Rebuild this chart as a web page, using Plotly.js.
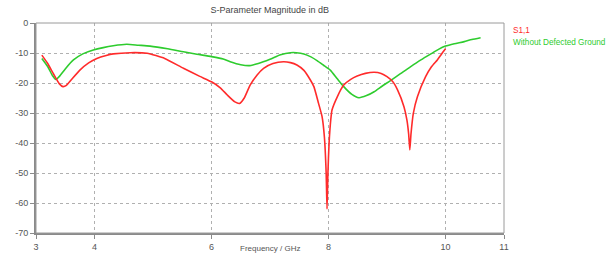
<!DOCTYPE html>
<html>
<head>
<meta charset="utf-8">
<script src="https://cdn.plot.ly/plotly-3.0.1.min.js"></script>
<style>html,body{margin:0;padding:0;background:#fff;}#chart{width:613px;height:255px;}</style>
</head>
<body>
<div id="chart"></div>
<script>
var s11Freq = [3.10,3.20,3.30,3.40,3.46,3.52,3.60,3.75,3.90,4.04,4.20,4.32,4.61,4.90,5.20,5.52,5.80,6.00,6.15,6.27,6.40,6.48,6.56,6.66,6.78,6.89,7.05,7.23,7.35,7.46,7.58,7.69,7.75,7.83,7.89,7.93,7.96,7.975,7.99,8.01,8.04,8.06,8.15,8.26,8.38,8.49,8.63,8.78,8.90,9.00,9.10,9.18,9.29,9.34,9.37,9.39,9.41,9.45,9.52,9.66,9.76,9.86,9.93,10.0];
var s11dB = [-10.7,-13.5,-17.0,-20.3,-21.2,-20.8,-19.0,-15.7,-13.3,-11.8,-10.8,-10.3,-9.9,-10.1,-11.8,-15.1,-17.8,-19.6,-21.6,-24.0,-26.3,-26.8,-25.0,-20.7,-17.3,-15.1,-13.5,-12.9,-13.2,-14.0,-15.8,-19.0,-21.2,-26.8,-31.2,-38.0,-50.0,-62.0,-50.0,-40.0,-32.0,-29.0,-24.6,-20.7,-18.8,-17.7,-16.8,-16.4,-16.8,-17.9,-19.6,-22.3,-27.9,-32.3,-37.0,-42.3,-37.0,-30.1,-24.6,-17.9,-14.6,-12.3,-10.4,-8.6];
var ndgFreq = [3.10,3.20,3.28,3.34,3.40,3.50,3.64,3.80,3.98,4.15,4.32,4.55,4.75,4.95,5.25,5.52,5.75,6.00,6.20,6.32,6.50,6.65,6.80,7.00,7.18,7.35,7.45,7.58,7.70,7.81,7.91,8.03,8.15,8.26,8.40,8.52,8.65,8.78,8.92,9.06,9.23,9.40,9.58,9.75,9.88,10.0,10.15,10.32,10.45,10.60];
var ndgdB = [-11.8,-14.5,-17.5,-18.8,-17.8,-15.3,-12.3,-10.3,-9.0,-8.2,-7.6,-7.1,-7.4,-7.7,-8.6,-9.6,-10.4,-11.2,-12.0,-12.9,-13.9,-14.2,-13.5,-12.1,-10.6,-9.9,-9.9,-10.3,-11.3,-12.6,-14.0,-15.7,-18.6,-21.2,-23.8,-24.9,-24.2,-22.9,-21.0,-19.2,-16.9,-14.6,-12.3,-10.3,-8.8,-7.7,-6.9,-6.2,-5.5,-4.9];
var seriesNames = ["S1,1", "Without Defected Ground"];
var xTicks = [3,4,6,8,10,11];
var yTicks = [0,-10,-20,-30,-40,-50,-60,-70];
var titleText = "S-Parameter Magnitude in dB";
var xTitle = "Frequency / GHz";

var RED = "#ff2b2b", GREEN = "#2ecc2e";
var FONT = "Liberation Sans, Arial, sans-serif";

var traces = [
  {x: ndgFreq, y: ndgdB, mode: "lines", name: seriesNames[1], line: {color: GREEN, width: 1.6, shape: "spline", smoothing: 0.6}},
  {x: s11Freq, y: s11dB, mode: "lines", name: seriesNames[0], line: {color: RED, width: 1.6, shape: "spline", smoothing: 0.5}}
];

var layout = {
  width: 613, height: 255,
  margin: {l: 36, r: 109, t: 23, b: 22},
  paper_bgcolor: "#fff", plot_bgcolor: "#fff",
  showlegend: false,
  font: {family: FONT, size: 9, color: "#555"},
  title: {text: titleText, font: {family: FONT, size: 9, color: "#444"}, x: 0.44, xanchor: "center", y: 0.96, yanchor: "middle"},
  xaxis: {
    range: [3, 11], tickvals: xTicks, ticktext: xTicks.map(String),
    showgrid: true, gridcolor: "#b0b0b0", griddash: "dot", gridwidth: 1,
    zeroline: false, showline: true, linecolor: "#8a8a8a", linewidth: 2,
    ticks: "outside", ticklen: 4, tickcolor: "#8a8a8a", tickwidth: 1,
    tickfont: {family: FONT, size: 9, color: "#555"}
  },
  yaxis: {
    range: [-70, 0], tickvals: yTicks, ticktext: yTicks.map(String),
    showgrid: true, gridcolor: "#b0b0b0", griddash: "dot", gridwidth: 1,
    zeroline: false, showline: true, linecolor: "#8a8a8a", linewidth: 2,
    ticks: "outside", ticklen: 4, tickcolor: "#8a8a8a", tickwidth: 1,
    tickfont: {family: FONT, size: 9, color: "#555"}
  },
  shapes: [
    {type: "rect", xref: "paper", yref: "paper", x0: 0, x1: 1, y0: 0, y1: 1, line: {color: "#9a9a9a", width: 1}, layer: "above"}
  ],
  annotations: [
    {xref: "paper", yref: "paper", x: 1.015, y: 0.964, xanchor: "left", yanchor: "middle", text: seriesNames[0], showarrow: false, font: {family: FONT, size: 8.2, color: RED}},
    {xref: "paper", yref: "paper", x: 1.015, y: 0.907, xanchor: "left", yanchor: "middle", text: seriesNames[1], showarrow: false, font: {family: FONT, size: 8.2, color: GREEN}},
    {xref: "paper", yref: "paper", x: 0.5, y: -0.098, xanchor: "center", yanchor: "bottom", text: xTitle, showarrow: false, borderpad: 0, font: {family: FONT, size: 8, color: "#555"}}
  ]
};

Plotly.newPlot("chart", traces, layout, {displayModeBar: false, staticPlot: true});
</script>
</body>
</html>
